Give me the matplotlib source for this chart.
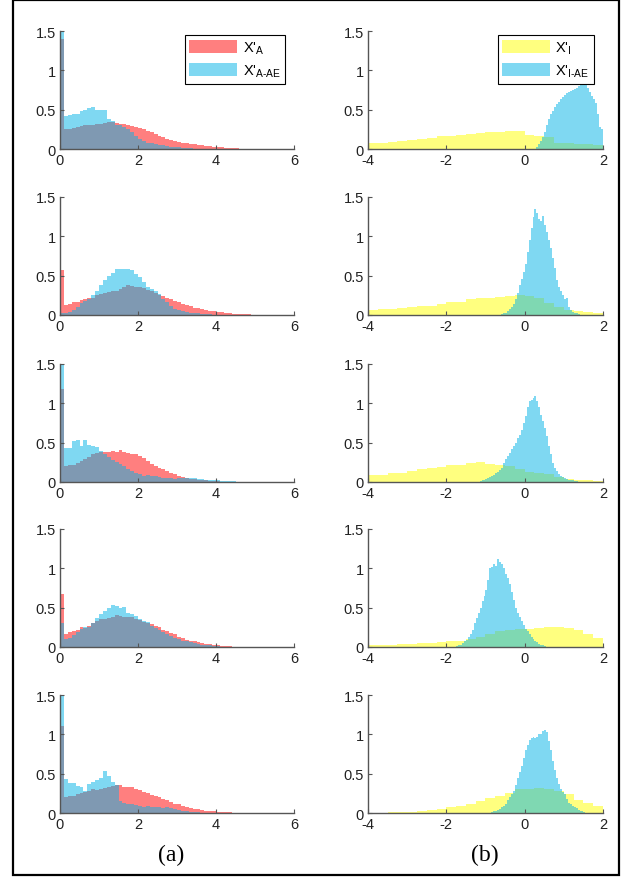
import matplotlib
matplotlib.use("Agg")
import matplotlib.pyplot as plt
import numpy as np
from matplotlib.patches import Patch, Rectangle

plt.rcParams["font.family"] = ["Liberation Sans", "DejaVu Sans"]
plt.rcParams["mathtext.fontset"] = "custom"
plt.rcParams["mathtext.rm"] = "Liberation Sans"

# column (a): X'_A and X'_A-AE histograms, bin width 0.1 from 0
A_BIN = 0.1
red_1 = [1.40, 0.25, 0.26, 0.27, 0.28, 0.29, 0.30, 0.31, 0.31, 0.32, 0.32, 0.33, 0.34, 0.34, 0.33,
         0.32, 0.32, 0.31, 0.29, 0.28, 0.27, 0.25, 0.23, 0.21, 0.19, 0.17, 0.15, 0.13, 0.115, 0.10,
         0.09, 0.08, 0.07, 0.065, 0.06, 0.055, 0.045, 0.04, 0.035, 0.03, 0.025, 0.02, 0.015, 0.012,
         0.01, 0.008, 0.005, 0.004]
cyan_a1 = [1.50, 0.42, 0.43, 0.45, 0.44, 0.48, 0.50, 0.52, 0.53, 0.49, 0.50, 0.49, 0.38, 0.36, 0.31,
           0.30, 0.28, 0.25, 0.22, 0.17, 0.13, 0.10, 0.08, 0.07, 0.06, 0.05, 0.045, 0.04, 0.03, 0.025,
           0.02, 0.015, 0.01, 0.008, 0.005]
red_2 = [0.57, 0.13, 0.14, 0.16, 0.17, 0.19, 0.20, 0.21, 0.22, 0.25, 0.27, 0.28, 0.29, 0.30, 0.31,
         0.33, 0.36, 0.38, 0.37, 0.36, 0.35, 0.34, 0.32, 0.30, 0.28, 0.26, 0.24, 0.22, 0.20, 0.18,
         0.16, 0.14, 0.125, 0.11, 0.095, 0.085, 0.07, 0.06, 0.05, 0.045, 0.04, 0.032, 0.027, 0.022,
         0.018, 0.015, 0.012, 0.01, 0.008, 0.006, 0.004]
cyan_a2 = [0.03, 0.03, 0.04, 0.06, 0.10, 0.15, 0.18, 0.20, 0.25, 0.30, 0.38, 0.45, 0.50, 0.53, 0.58,
           0.58, 0.58, 0.59, 0.57, 0.52, 0.48, 0.42, 0.36, 0.33, 0.30, 0.27, 0.20, 0.16, 0.12, 0.08,
           0.06, 0.05, 0.04, 0.03, 0.025, 0.02, 0.015, 0.012, 0.01]
red_3 = [1.18, 0.20, 0.21, 0.22, 0.24, 0.27, 0.29, 0.32, 0.35, 0.37, 0.38, 0.38, 0.38, 0.39, 0.38,
         0.41, 0.38, 0.37, 0.36, 0.35, 0.33, 0.30, 0.27, 0.23, 0.20, 0.18, 0.16, 0.14, 0.12, 0.10,
         0.07, 0.06, 0.05, 0.04, 0.035, 0.03, 0.025, 0.02, 0.015, 0.012, 0.01]
cyan_a3 = [1.50, 0.43, 0.43, 0.52, 0.53, 0.46, 0.53, 0.47, 0.46, 0.45, 0.40, 0.36, 0.32, 0.28, 0.25,
           0.23, 0.20, 0.17, 0.14, 0.12, 0.10, 0.08, 0.09, 0.07, 0.08, 0.06, 0.05, 0.045, 0.05, 0.04,
           0.045, 0.05, 0.05, 0.055, 0.05, 0.04, 0.035, 0.03, 0.03, 0.025, 0.02, 0.015, 0.012, 0.01,
           0.008, 0.005]
red_4 = [0.68, 0.17, 0.19, 0.20, 0.22, 0.25, 0.24, 0.27, 0.30, 0.33, 0.35, 0.36, 0.37, 0.38, 0.41,
         0.39, 0.38, 0.38, 0.38, 0.36, 0.34, 0.32, 0.31, 0.29, 0.27, 0.25, 0.22, 0.20, 0.18, 0.16,
         0.13, 0.11, 0.095, 0.08, 0.07, 0.06, 0.05, 0.04, 0.032, 0.026, 0.02, 0.015, 0.012, 0.009,
         0.006, 0.004, 0.003]
cyan_a4 = [0.30, 0.10, 0.12, 0.15, 0.19, 0.23, 0.26, 0.25, 0.31, 0.37, 0.42, 0.46, 0.49, 0.54, 0.52,
           0.50, 0.51, 0.43, 0.42, 0.40, 0.35, 0.33, 0.32, 0.27, 0.24, 0.22, 0.19, 0.17, 0.14, 0.12,
           0.10, 0.08, 0.07, 0.06, 0.05, 0.04, 0.03, 0.025, 0.02, 0.015, 0.01]
red_5 = [1.10, 0.20, 0.21, 0.22, 0.24, 0.25, 0.27, 0.28, 0.30, 0.29, 0.31, 0.32, 0.33, 0.34, 0.35,
         0.35, 0.33, 0.33, 0.33, 0.31, 0.29, 0.27, 0.25, 0.23, 0.22, 0.20, 0.18, 0.16, 0.14, 0.12,
         0.11, 0.09, 0.08, 0.065, 0.055, 0.045, 0.035, 0.03, 0.025, 0.02, 0.015, 0.012, 0.01, 0.008,
         0.006, 0.005, 0.004, 0.003]
cyan_a5 = [1.50, 0.43, 0.38, 0.38, 0.34, 0.33, 0.28, 0.37, 0.40, 0.42, 0.45, 0.53, 0.47, 0.40, 0.36,
           0.15, 0.13, 0.12, 0.11, 0.10, 0.09, 0.08, 0.09, 0.07, 0.08, 0.07, 0.06, 0.07, 0.06, 0.05,
           0.04, 0.03, 0.02, 0.015, 0.01, 0.008]

# column (b): X'_I (bin width 0.25 from -4) and X'_I-AE (bin width 0.05)
Y_BIN = 0.25
Y_START = -4.0
C_BIN = 0.05
yellow_1 = [0.07, 0.08, 0.09, 0.10, 0.11, 0.13, 0.14, 0.16, 0.17, 0.18, 0.19, 0.20, 0.21, 0.22,
            0.23, 0.23, 0.18, 0.16, 0.15, 0.08, 0.07, 0.065, 0.06, 0.05]
cyan_b1_start = 0.30
cyan_b1 = [0.03, 0.06, 0.10, 0.15, 0.22, 0.30, 0.38, 0.45, 0.48, 0.53, 0.57, 0.60, 0.63, 0.66,
           0.69, 0.71, 0.73, 0.74, 0.75, 0.76, 0.78, 0.80, 0.82, 0.84, 0.83, 0.82, 0.78, 0.73,
           0.68, 0.63, 0.58, 0.45, 0.28, 0.26]
yellow_2 = [0.06, 0.07, 0.08, 0.09, 0.10, 0.11, 0.12, 0.14, 0.16, 0.17, 0.20, 0.21, 0.22, 0.23,
            0.24, 0.25, 0.24, 0.22, 0.15, 0.10, 0.06, 0.055, 0.04, 0.025]
cyan_b2_start = -0.60
cyan_b2 = [0.01, 0.02, 0.03, 0.05, 0.07, 0.10, 0.14, 0.20, 0.28, 0.38, 0.46, 0.55, 0.65, 0.80,
           0.95, 1.10, 1.25, 1.35, 1.30, 1.22, 1.20, 1.26, 1.15, 1.05, 0.95, 0.85, 0.72, 0.60,
           0.45, 0.35, 0.30, 0.25, 0.20, 0.22, 0.10, 0.06, 0.04, 0.03, 0.02, 0.01]
yellow_3 = [0.09, 0.09, 0.11, 0.12, 0.14, 0.17, 0.18, 0.19, 0.21, 0.22, 0.24, 0.25, 0.23, 0.22,
            0.20, 0.16, 0.13, 0.12, 0.10, 0.06, 0.04, 0.03, 0.02, 0.015]
cyan_b3_start = -1.20
cyan_b3 = [0.005, 0.01, 0.02, 0.03, 0.04, 0.05, 0.06, 0.07, 0.09, 0.11, 0.13, 0.15, 0.18, 0.24,
           0.29, 0.33, 0.37, 0.42, 0.46, 0.50, 0.56, 0.60, 0.66, 0.75, 0.84, 0.95, 1.03, 1.04,
           1.07, 1.09, 1.03, 0.95, 0.85, 0.78, 0.69, 0.58, 0.46, 0.35, 0.24, 0.18, 0.14, 0.10,
           0.08, 0.06, 0.05, 0.04, 0.03, 0.02, 0.02, 0.01, 0.01, 0.005]
yellow_4 = [0.02, 0.025, 0.03, 0.035, 0.04, 0.045, 0.05, 0.06, 0.07, 0.08, 0.10, 0.13, 0.17, 0.20,
            0.22, 0.23, 0.235, 0.24, 0.25, 0.26, 0.24, 0.22, 0.16, 0.11]
cyan_b4_start = -1.80
cyan_b4 = [0.005, 0.01, 0.02, 0.03, 0.05, 0.07, 0.09, 0.13, 0.17, 0.22, 0.30, 0.37, 0.43, 0.50,
           0.58, 0.65, 0.72, 0.85, 1.00, 1.02, 1.05, 1.03, 1.12, 1.08, 1.05, 1.00, 0.93, 0.88,
           0.80, 0.70, 0.60, 0.50, 0.43, 0.38, 0.33, 0.28, 0.23, 0.20, 0.17, 0.13, 0.10, 0.08,
           0.06, 0.04, 0.03, 0.02, 0.01, 0.005]
yellow_5 = [0.005, 0.005, 0.007, 0.01, 0.015, 0.03, 0.04, 0.05, 0.07, 0.09, 0.12, 0.15, 0.19, 0.22,
            0.26, 0.30, 0.31, 0.32, 0.31, 0.28, 0.24, 0.17, 0.13, 0.09]
cyan_b5_start = -0.85
cyan_b5 = [0.01, 0.02, 0.03, 0.04, 0.05, 0.07, 0.09, 0.12, 0.16, 0.20, 0.24, 0.28, 0.35, 0.45,
           0.52, 0.60, 0.70, 0.80, 0.87, 0.93, 0.95, 0.97, 0.95, 0.97, 1.00, 1.01, 1.04, 1.06,
           1.03, 0.92, 0.80, 0.66, 0.55, 0.45, 0.37, 0.30, 0.27, 0.24, 0.18, 0.13, 0.11, 0.09,
           0.07, 0.06, 0.04, 0.03, 0.02, 0.01]

col_a = [(red_1, cyan_a1), (red_2, cyan_a2), (red_3, cyan_a3), (red_4, cyan_a4), (red_5, cyan_a5)]
col_b = [(yellow_1, cyan_b1_start, cyan_b1), (yellow_2, cyan_b2_start, cyan_b2),
         (yellow_3, cyan_b3_start, cyan_b3), (yellow_4, cyan_b4_start, cyan_b4),
         (yellow_5, cyan_b5_start, cyan_b5)]

RED = (1.0, 0.0, 0.0, 0.5)
CYAN = (0.0, 0.7, 0.9, 0.5)
YELLOW = (1.0, 1.0, 0.0, 0.5)

Y_TICKS = [0, 0.5, 1, 1.5]
Y_LABELS = ["0", "0.5", "1", "1.5"]

W, H = 627, 879
fig = plt.figure(figsize=(W / 100, H / 100), dpi=100)

# outer frame
fig.add_artist(Rectangle((13 / W, 1 - 876 / H), 606 / W, 875 / H, transform=fig.transFigure,
                         fill=False, edgecolor="black", linewidth=1.6))

row_tops = [32, 198, 365, 530, 696]
ax_h = 118


def style_axes(ax, xlim, xticks):
    ax.set_xlim(*xlim)
    ax.set_ylim(0, 1.5)
    ax.set_xticks(xticks)
    ax.set_xticklabels([str(t) for t in xticks])
    ax.set_yticks(Y_TICKS)
    ax.set_yticklabels(Y_LABELS)
    for side in ("top", "right"):
        ax.spines[side].set_visible(False)
    for side in ("left", "bottom"):
        ax.spines[side].set_color("#555555")
        ax.spines[side].set_linewidth(1.0)
    ax.tick_params(direction="in", length=3, width=0.8, color="#555555",
                   labelsize=10.5, labelcolor="#222222", pad=3)


def add_legend(ax, handles, labels):
    leg = ax.legend(handles, labels, loc="upper right", bbox_to_anchor=(0.962, 0.965),
                    fontsize=10.5, handlelength=3.3, handleheight=1.0, fancybox=False,
                    framealpha=1, borderpad=0.3, labelspacing=0.45, handletextpad=0.35,
                    borderaxespad=0)
    leg.get_frame().set_edgecolor("black")
    leg.get_frame().set_linewidth(0.8)


def edges(start, width, n):
    return start + width * np.arange(n + 1)


for i, top in enumerate(row_tops):
    bottom = 1 - (top + ax_h) / H

    red, cyan = col_a[i]
    ax = fig.add_axes([60 / W, bottom, 234 / W, ax_h / H])
    ax.stairs(red, edges(0.0, A_BIN, len(red)), fill=True, color=RED, linewidth=0)
    ax.stairs(cyan, edges(0.0, A_BIN, len(cyan)), fill=True, color=CYAN, linewidth=0)
    style_axes(ax, (0, 6), [0, 2, 4, 6])
    if i == 0:
        add_legend(ax, [Patch(facecolor=RED, edgecolor="none"), Patch(facecolor=CYAN, edgecolor="none")],
                   [r"X'$_{\rm A}$", r"X'$_{\rm A\text{-}AE}$"])

    yellow, c_start, cyan = col_b[i]
    ax = fig.add_axes([368 / W, bottom, 235 / W, ax_h / H])
    ax.stairs(yellow, edges(Y_START, Y_BIN, len(yellow)), fill=True, color=YELLOW, linewidth=0)
    ax.stairs(cyan, edges(c_start, C_BIN, len(cyan)), fill=True, color=CYAN, linewidth=0)
    style_axes(ax, (-4, 2), [-4, -2, 0, 2])
    if i == 0:
        add_legend(ax, [Patch(facecolor=YELLOW, edgecolor="none"), Patch(facecolor=CYAN, edgecolor="none")],
                   [r"X'$_{\rm I}$", r"X'$_{\rm I\text{-}AE}$"])

fig.text(171 / W, 1 - 855 / H, "(a)", ha="center", va="center", fontsize=17,
         family="Liberation Serif")
fig.text(485 / W, 1 - 855 / H, "(b)", ha="center", va="center", fontsize=17,
         family="Liberation Serif")

fig.savefig("out.png", dpi=100)
